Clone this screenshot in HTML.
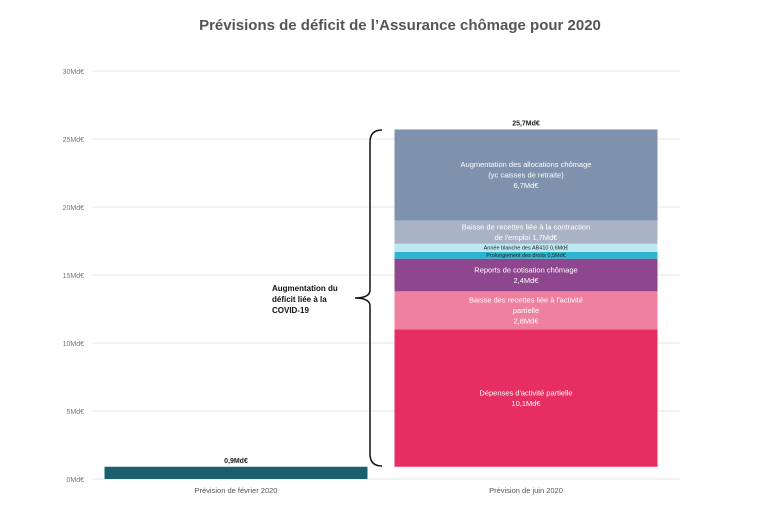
<!DOCTYPE html>
<html><head><meta charset="utf-8"><style>
body{margin:0;background:#fff;width:770px;height:522px;overflow:hidden;font-family:"Liberation Sans",sans-serif}
</style></head><body>
<svg id="chart" width="770" height="522" xmlns="http://www.w3.org/2000/svg">
<text x="400" y="30" text-anchor="middle" font-size="15" font-weight="bold" fill="#555">Prévisions de déficit de l’Assurance chômage pour 2020</text>
<g id="grid"></g><g id="bars"></g>
<path d="M382,130 Q370,130 370,142 L370,290 Q370,298 355,298 Q370,298 370,306 L370,454 Q370,466 382,466" fill="none" stroke="#111" stroke-width="1.5"/>
<text font-size="8" font-weight="bold" fill="#111"><tspan x="272" y="291">Augmentation du</tspan><tspan x="272" y="302">déficit liée à la</tspan><tspan x="272" y="313">COVID-19</tspan></text>
</svg>
<script>
const ticks=[0,5,10,15,20,25,30];
const tickLabels=["0Md€","5Md€","10Md€","15Md€","20Md€","25Md€","30Md€"];
const categories=["Prévision de février 2020","Prévision de juin 2020"];
const febValue=[0.9];
const febLabel=["0,9Md€"];
const juneSegments=[10.1,2.8,2.4,0.5,0.6,1.7,6.7];
const juneLabels=[["Dépenses d'activité partielle","10,1Md€"],["Baisse des recettes liée à l'activité","partielle","2,8Md€"],["Reports de cotisation chômage","2,4Md€"],["Prolongement des droits  0,5Md€"],["Année blanche des AB410  0,6Md€"],["Baisse de recettes liée à la contraction","de l'emploi  1,7Md€"],["Augmentation des allocations chômage","(yc caisses de retraite)","6,7Md€"]];
const juneTotal=["25,7Md€"];
const colors=["#e62e62","#f0809f","#8e468f","#2bb6cf","#bde8f1","#aab3c5","#7e92ad"];
const textCols=["#fff","#fff","#fff","#222","#222","#fff","#fff"];
const ns="http://www.w3.org/2000/svg";
const y=v=>479-v*13.6;
function mk(t,a,p){const e=document.createElementNS(ns,t);for(const k in a)e.setAttribute(k,a[k]);p.appendChild(e);return e;}
const grid=document.getElementById('grid'),bars=document.getElementById('bars');
ticks.forEach((t,i)=>{
 const l=mk('line',{x1:92,x2:680,y1:y(t),y2:y(t),stroke:'#e6e6e6'},grid);
 
 
 const tx=mk('text',{x:84,y:y(t)+3,'text-anchor':'end','font-size':7,fill:'#777'},grid);
 tx.textContent=tickLabels[i];
 
 
});
const cx=[236,526],bw=263;
categories.forEach((c,i)=>{
 const t=mk('text',{x:cx[i],y:493,'text-anchor':'middle','font-size':7.5,fill:'#555'},grid);
 t.textContent=c;
 
 
});
const fb=mk('rect',{x:cx[0]-bw/2,y:y(febValue[0]),width:bw,height:y(0)-y(febValue[0]),fill:'#1b5f6e'},bars);


const fl=mk('text',{x:cx[0],y:y(febValue[0])-4,'text-anchor':'middle','font-size':7,'font-weight':'bold',fill:'#222'},bars);
fl.textContent=febLabel[0];


let base=febValue[0];
juneSegments.forEach((v,i)=>{
 const top=base+v;
 const r=mk('rect',{x:cx[1]-bw/2,y:y(top),width:bw,height:y(base)-y(top),fill:colors[i]},bars);
 
 
 const lines=juneLabels[i],small=v<1,fs=small?5.5:7.5,lh=small?6:10.5;
 const mid=(y(base)+y(top))/2-(lines.length-1)*lh/2+fs*0.35;
 lines.forEach((s,j)=>{
  const t=mk('text',{x:cx[1],y:mid+j*lh,'text-anchor':'middle','font-size':fs,fill:textCols[i]},bars);
  t.textContent=s;
  
  
 });
 base=top;
});
const tl=mk('text',{x:cx[1],y:y(base)-4,'text-anchor':'middle','font-size':7,'font-weight':'bold',fill:'#222'},bars);
tl.textContent=juneTotal[0];


</script>
</body></html>
